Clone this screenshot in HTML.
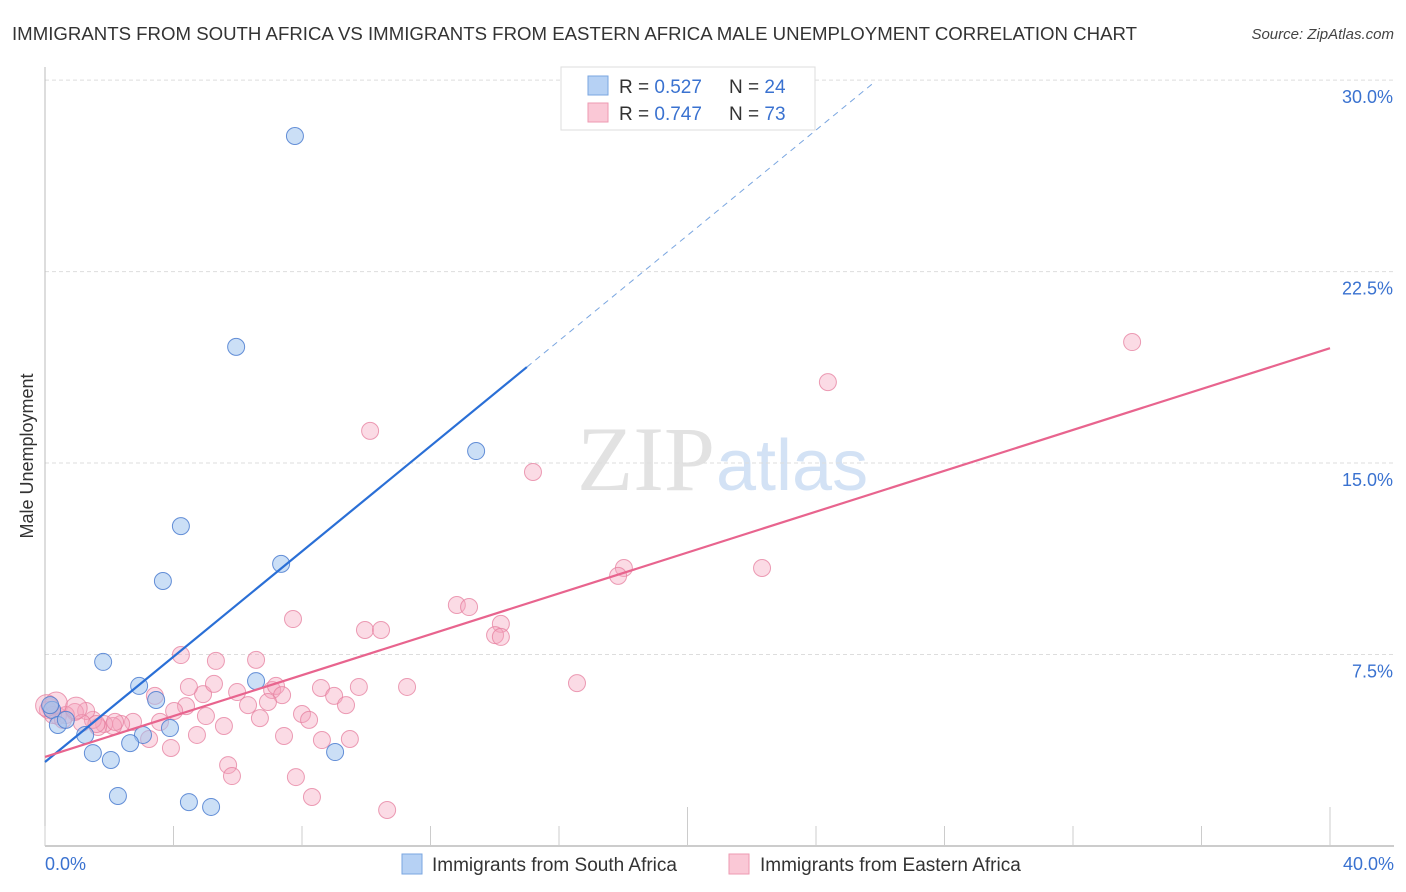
<!DOCTYPE html>
<html><head><meta charset="utf-8"><style>
body{margin:0;background:#fff;}
svg{display:block;font-family:"Liberation Sans",sans-serif;}
</style></head><body>
<svg id="chart" width="1406" height="892" xmlns="http://www.w3.org/2000/svg">
<text x="12" y="40" font-size="18" fill="#333" textLength="1125" lengthAdjust="spacingAndGlyphs">IMMIGRANTS FROM SOUTH AFRICA VS IMMIGRANTS FROM EASTERN AFRICA MALE UNEMPLOYMENT CORRELATION CHART</text>
<text x="1394" y="39" font-size="15" fill="#444" font-style="italic" text-anchor="end">Source: ZipAtlas.com</text>
<text x="715" y="490" font-size="92" fill="#e2e2e2" font-family="Liberation Serif,serif" text-anchor="end">ZIP</text>
<text x="716" y="490" font-size="72" fill="#d3e2f5">atlas</text>
<text transform="translate(33,456) rotate(-90)" font-size="18" fill="#333" text-anchor="middle">Male Unemployment</text>
<g id="grid"></g>
<g id="marks"></g>
<g>
<rect x="561" y="67" width="254" height="63" fill="#fff" stroke="#ddd"/>
<rect x="588" y="76" width="20" height="19" fill="#b6d1f4" stroke="#7aa6e0"/>
<rect x="588" y="103" width="20" height="19" fill="#fac8d6" stroke="#ee9ab2"/>
<text x="619" y="93" font-size="19" fill="#333">R = <tspan fill="#3a72d0">0.527</tspan></text>
<text x="729" y="93" font-size="19" fill="#333">N = <tspan fill="#3a72d0">24</tspan></text>
<text x="619" y="120" font-size="19" fill="#333">R = <tspan fill="#3a72d0">0.747</tspan></text>
<text x="729" y="120" font-size="19" fill="#333">N = <tspan fill="#3a72d0">73</tspan></text>
</g>
<g>
<rect x="402" y="854" width="20" height="20" fill="#b6d1f4" stroke="#7aa6e0"/>
<text x="432" y="871" font-size="19" fill="#333">Immigrants from South Africa</text>
<rect x="729" y="854" width="20" height="20" fill="#fac8d6" stroke="#ee9ab2"/>
<text x="760" y="871" font-size="19" fill="#333">Immigrants from Eastern Africa</text>
</g>
</svg>
<script>
const yTicks=[7.5,15,22.5,30];
const yTickLabels=["7.5%","15.0%","22.5%","30.0%"];
const xTicks=[0,4,8,12,16,20,24,28,32,36,40];
const xEndLabels=["0.0%","40.0%"];
const blueX=[7.78,5.95,13.42,4.23,3.67,7.35,1.81,2.93,3.46,6.57,3.89,3.05,0.22,0.40,0.65,1.25,1.49,2.05,2.65,9.03,2.27,4.48,5.17,0.16];
const blueY=[27.81,19.55,15.47,12.53,10.38,11.05,7.21,6.27,5.72,6.46,4.62,4.35,5.33,4.74,4.94,4.35,3.64,3.37,4.03,3.68,1.96,1.72,1.53,5.52];
const pinkX=[33.84,24.37,10.12,15.19,22.32,18.02,17.84,12.82,13.20,7.72,9.96,10.46,14.19,14.01,14.19,4.23,5.32,6.57,16.56,11.27,9.77,8.59,9.00,9.37,7.07,7.19,7.38,5.98,4.92,4.48,5.26,3.42,4.39,4.02,6.32,6.94,8.00,8.22,6.69,5.01,5.57,4.73,3.92,3.24,3.58,2.74,2.37,2.12,1.84,1.65,1.49,1.28,0.93,0.65,0.40,0.16,0.09,0.25,0.56,8.62,9.49,7.44,5.70,5.82,7.81,8.31,10.65,2.18,1.60,1.15,0.97,0.35,0.05];
const pinkY=[19.74,18.17,16.26,14.65,10.89,10.89,10.58,9.44,9.36,8.89,8.46,8.46,8.70,8.26,8.19,7.48,7.25,7.29,6.38,6.23,6.23,6.19,5.88,5.52,6.11,6.27,5.91,6.03,5.95,6.23,6.35,5.88,5.48,5.29,5.52,5.64,5.17,4.94,5.01,5.09,4.70,4.35,3.84,4.19,4.86,4.86,4.78,4.70,4.78,4.66,4.94,5.29,5.25,5.13,5.09,5.44,5.33,5.13,4.94,4.15,4.19,4.31,3.17,2.74,2.70,1.92,1.41,4.86,4.78,4.82,5.40,5.60,5.50];
const blueLine=[[0,3.29],[15.0,18.76]];
const blueDash=[[15.0,18.76],[25.8,29.9]];
const pinkLine=[[0,3.49],[40,19.5]];
const NS="http://www.w3.org/2000/svg";
const X=v=>45+v/40*1285, Y=v=>846-v*25.53;
function mk(tag,attrs,parent){const e=document.createElementNS(NS,tag);for(const k in attrs)e.setAttribute(k,attrs[k]);parent.appendChild(e);return e;}
const grid=document.getElementById('grid'), marks=document.getElementById('marks');
yTicks.forEach((t,i)=>{
 const l=mk('line',{x1:45,x2:1394,y1:Y(t),y2:Y(t),stroke:'#ddd','stroke-dasharray':'4,3'},grid);
 
 
 const tx=mk('text',{x:1393,y:Y(t)+23,'font-size':18,fill:'#3a72d0','text-anchor':'end'},grid);
 tx.textContent=yTickLabels[i];
 
 
});
const ax=mk('line',{x1:45,x2:45,y1:67,y2:846,stroke:'#bbb'},grid);


const bx=mk('line',{x1:45,x2:1394,y1:846,y2:846,stroke:'#bbb','stroke-width':1.5},grid);


xTicks.forEach((t,i)=>{
 const long=(i===5||i===10);
 const l=mk('line',{x1:X(t),x2:X(t),y1:long?807:826,y2:846,stroke:'#ccc'},grid);
 
 
});
[[0,'start',45],[40,'end',1394]].forEach((d,i)=>{
 const tx=mk('text',{x:d[2],y:870,'font-size':18,fill:'#3a72d0','text-anchor':d[1]},grid);
 tx.textContent=xEndLabels[i];
 
 
});
pinkX.forEach((v,i)=>{
 const c=mk('circle',{cx:X(v),cy:Y(pinkY[i]),r:i>=70?11:8.5,fill:'rgba(246,165,190,0.4)',stroke:'rgba(230,125,157,0.75)'},marks);
 
 
});
blueX.forEach((v,i)=>{
 const c=mk('circle',{cx:X(v),cy:Y(blueY[i]),r:8.5,fill:'rgba(160,196,238,0.55)',stroke:'rgba(75,125,208,0.85)'},marks);
 
 
});
const bl=mk('line',{x1:X(blueLine[0][0]),y1:Y(blueLine[0][1]),x2:X(blueLine[1][0]),y2:Y(blueLine[1][1]),stroke:'#2a6fd6','stroke-width':2.2},marks);


const bd=mk('line',{x1:X(blueDash[0][0]),y1:Y(blueDash[0][1]),x2:X(blueDash[1][0]),y2:Y(blueDash[1][1]),stroke:'#7aa6e0','stroke-width':1,'stroke-dasharray':'6,5'},marks);


const pl=mk('line',{x1:X(pinkLine[0][0]),y1:Y(pinkLine[0][1]),x2:X(pinkLine[1][0]),y2:Y(pinkLine[1][1]),stroke:'#e8648e','stroke-width':2.2},marks);


</script>
</body></html>
